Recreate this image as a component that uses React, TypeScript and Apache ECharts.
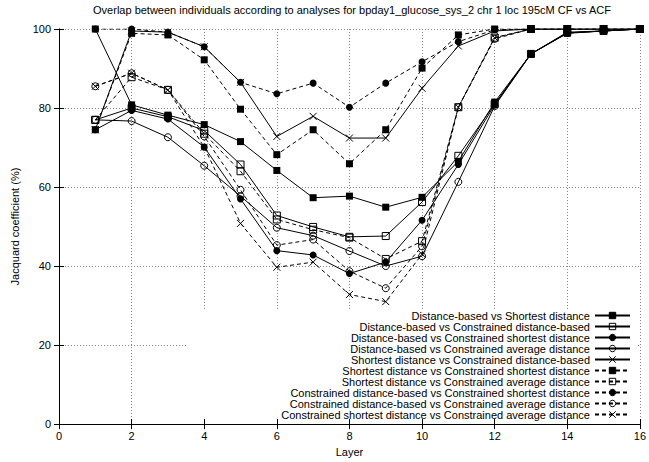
import React, { useEffect, useRef } from "react";
import * as echarts from "echarts";

const layers = [1, 2, 3, 4, 5, 6, 7, 8, 9, 10, 11, 12, 13, 14, 15, 16];

const seriesNames = [
  "Distance-based vs Shortest distance",
  "Distance-based vs Constrained distance-based",
  "Distance-based vs Constrained shortest distance",
  "Distance-based vs Constrained average distance",
  "Shortest distance vs Constrained distance-based",
  "Shortest distance vs Constrained shortest distance",
  "Shortest distance vs Constrained average distance",
  "Constrained distance-based vs Constrained shortest distance",
  "Constrained distance-based vs Constrained average distance",
  "Constrained shortest distance vs Constrained average distance",
];

const dbVsSd = [100, 80.8, 78.2, 75.8, 71.5, 64.2, 57.3, 57.7, 54.9, 57.4, 66.5, 81.5, 93.7, 98.9, 99.5, 100];
const dbVsCdb = [77, 80.0, 77.8, 74.3, 65.7, 52.8, 49.9, 47.4, 47.6, 56.2, 67.9, 81.0, 93.7, 99.2, 99.5, 100];
const dbVsCsd = [74.5, 79.4, 77.2, 70.1, 57.0, 43.9, 42.8, 38.1, 41.0, 51.6, 65.7, 80.8, 93.7, 99.0, 99.5, 100];
const dbVsCad = [77, 76.7, 72.6, 65.4, 57.7, 49.7, 47.7, 43.8, 40.0, 42.5, 61.3, 80.5, 93.7, 99.0, 99.5, 100];
const sdVsCdb = [74.5, 99.5, 99.2, 95.5, 86.5, 72.8, 77.9, 72.4, 72.4, 85.0, 95.7, 99.5, 100, 100, 100, 100];
const sdVsCsd = [74.5, 98.9, 98.5, 92.2, 79.7, 68.2, 74.5, 65.9, 74.5, 90.1, 98.5, 100, 100, 100, 100, 100];
const sdVsCad = [77, 87.8, 84.6, 73.5, 64.0, 51.8, 49.2, 47.2, 41.8, 46.3, 80.2, 97.8, 100, 100, 100, 100];
const cdbVsCsd = [100, 100, 99.2, 95.5, 86.5, 83.6, 86.3, 80.2, 86.3, 91.7, 96.8, 99.8, 100, 100, 100, 100];
const cdbVsCad = [85.5, 88.8, 84.6, 72.8, 59.3, 45.3, 46.7, 38.7, 34.4, 45.0, 80.2, 97.5, 100, 100, 100, 100];
const csdVsCad = [85.5, 88.8, 84.6, 70.1, 50.8, 39.7, 41.0, 32.8, 31.0, 43.0, 80.2, 97.8, 100, 100, 100, 100];

const seriesValues = [dbVsSd, dbVsCdb, dbVsCsd, dbVsCad, sdVsCdb, sdVsCsd, sdVsCad, cdbVsCsd, cdbVsCad, csdVsCad];

const markerKinds = ["fsq", "osq", "fci", "oci", "x", "fsq", "osq", "fci", "oci", "x"];
const dashedFlags = [false, false, false, false, false, true, true, true, true, true];

const xTicks = { min: 0, max: 16, interval: 2 };
const yTicks = { min: 0, max: 100, interval: 20 };

const FONT = "'Liberation Sans', Arial, Helvetica, sans-serif";
const CROSS = "path://M0,0L8,8M8,0L0,8";

function markerStyle(kind: string) {
  switch (kind) {
    case "fsq":
      return { symbol: "rect", size: 7, itemStyle: { color: "#000", borderColor: "#000", borderWidth: 0 } };
    case "osq":
      return { symbol: "rect", size: 7, itemStyle: { color: "rgba(0,0,0,0)", borderColor: "#000", borderWidth: 1 } };
    case "fci":
      return { symbol: "circle", size: 7, itemStyle: { color: "#000", borderColor: "#000", borderWidth: 0 } };
    case "oci":
      return { symbol: "circle", size: 7, itemStyle: { color: "rgba(0,0,0,0)", borderColor: "#000", borderWidth: 1 } };
    default:
      return { symbol: CROSS, size: 7, itemStyle: { color: "rgba(0,0,0,0)", borderColor: "#000", borderWidth: 1 } };
  }
}

export default function App() {
  const ref = useRef<HTMLDivElement>(null);

  useEffect(() => {
    if (!ref.current) return;
    const chart = echarts.init(ref.current, undefined, { renderer: "svg" });

    const series = seriesNames.map((name, i) => {
      const m = markerStyle(markerKinds[i]);
      return {
        name,
        type: "line",
        xAxisIndex: 0,
        yAxisIndex: 0,
        data: layers.map((x, j) => [x, seriesValues[i][j]]),
        symbol: m.symbol,
        symbolSize: m.size,
        showAllSymbol: true,
        itemStyle: m.itemStyle,
        lineStyle: { color: "#000", width: 1, type: dashedFlags[i] ? [4, 3] : "solid" },
        emphasis: { disabled: true },
        z: 2 + i * 0.01,
      };
    });

    const splitLine = { show: true, lineStyle: { color: "#888", type: [1, 2], width: 1 } };

    chart.setOption({
      animation: false,
      backgroundColor: "#fff",
      textStyle: { fontFamily: FONT },
      title: {
        text: "Overlap between individuals according to analyses for bpday1_glucose_sys_2 chr 1 loc 195cM CF vs ACF",
        left: 352,
        textAlign: "center",
        top: 4,
        padding: 0,
        textStyle: { fontSize: 11, fontWeight: "normal", color: "#000", fontFamily: FONT },
      },
      grid: { left: 59, right: 7, top: 29, bottom: 37, containLabel: false },
      xAxis: [
        {
          type: "value",
          min: xTicks.min,
          max: xTicks.max,
          interval: xTicks.interval,
          position: "bottom",
          name: "Layer",
          nameLocation: "middle",
          nameGap: 18,
          nameTextStyle: { fontSize: 11, color: "#000", fontFamily: FONT },
          axisLine: { show: true, lineStyle: { color: "#000", width: 1 } },
          axisTick: { show: true, inside: true, length: 5, lineStyle: { color: "#000" } },
          axisLabel: { fontSize: 11, color: "#000", margin: 6, fontFamily: FONT },
          splitLine,
        },
        {
          type: "value",
          min: xTicks.min,
          max: xTicks.max,
          interval: xTicks.interval,
          position: "top",
          axisLine: { show: true, lineStyle: { color: "#000", width: 1 } },
          axisTick: { show: true, inside: true, length: 5, lineStyle: { color: "#000" } },
          axisLabel: { show: false },
          splitLine: { show: false },
        },
      ],
      yAxis: [
        {
          type: "value",
          min: yTicks.min,
          max: yTicks.max,
          interval: yTicks.interval,
          position: "left",
          name: "Jacquard coefficient (%)",
          nameLocation: "middle",
          nameGap: 39,
          nameTextStyle: { fontSize: 11, color: "#000", fontFamily: FONT },
          axisLine: { show: true, lineStyle: { color: "#000", width: 1 } },
          axisTick: { show: true, inside: true, length: 5, lineStyle: { color: "#000" } },
          axisLabel: { fontSize: 11, color: "#000", margin: 8, fontFamily: FONT },
          splitLine,
        },
        {
          type: "value",
          min: yTicks.min,
          max: yTicks.max,
          interval: yTicks.interval,
          position: "right",
          axisLine: { show: true, lineStyle: { color: "#000", width: 1 } },
          axisTick: { show: true, inside: true, length: 5, lineStyle: { color: "#000" } },
          axisLabel: { show: false },
          splitLine: { show: false },
        },
      ],
      legend: {
        orient: "vertical",
        align: "right",
        right: 18,
        top: 310,
        padding: 0,
        itemGap: 0,
        itemWidth: 35,
        itemHeight: 8,
        selectedMode: false,
        data: seriesNames,
        textStyle: { fontSize: 11, lineHeight: 10, color: "#000", fontFamily: FONT },
        itemStyle: { borderWidth: 1 },
      },
      graphic: [
        {
          type: "rect",
          z: 1,
          silent: true,
          shape: { x: 188, y: 309, width: 448, height: 110 },
          style: { fill: "#fff" },
        },
      ],
      series,
    });

    return () => chart.dispose();
  }, []);

  return (
    <div
      ref={ref}
      style={{ position: "fixed", left: 0, top: 0, width: 649, height: 462 }}
    />
  );
}
